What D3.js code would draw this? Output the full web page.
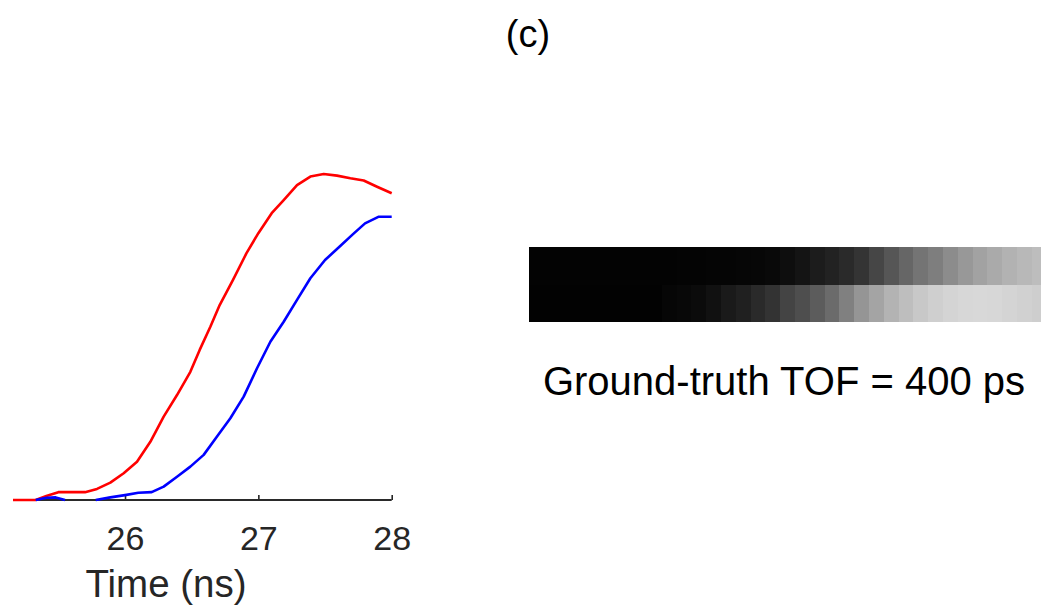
<!DOCTYPE html>
<html>
<head>
<meta charset="utf-8">
<script src="https://cdn.jsdelivr.net/npm/d3@7"></script>
<style>
  html, body { margin: 0; padding: 0; background: #fff; }
  svg { display: block; font-family: "Liberation Sans", Arial, Helvetica, sans-serif; }
</style>
</head>
<body>
<svg id="chart" width="1041" height="607"></svg>
<script>
// ---- data ----
const redTime  = [25.16, 25.33, 25.41, 25.50, 25.70, 25.79, 25.89, 25.99, 26.09, 26.19, 26.29, 26.39, 26.49, 26.56, 26.64, 26.71, 26.81, 26.91, 27.00, 27.10, 27.19, 27.29, 27.39, 27.49, 27.59, 27.69, 27.79, 27.89, 28.00];
const redValue = [0, 0, 0.012, 0.024, 0.024, 0.034, 0.053, 0.082, 0.117, 0.178, 0.255, 0.321, 0.392, 0.459, 0.530, 0.596, 0.673, 0.754, 0.816, 0.877, 0.917, 0.963, 0.989, 0.997, 0.992, 0.984, 0.977, 0.958, 0.938];

const blueTime  = [25.33, 25.41, 25.48, 25.55, 25.66, 25.78, 25.89, 26.00, 26.10, 26.20, 26.29, 26.39, 26.49, 26.59, 26.69, 26.79, 26.89, 26.99, 27.09, 27.19, 27.29, 27.39, 27.50, 27.61, 27.71, 27.80, 27.90, 28.00];
const blueValue = [0, 0.007, 0.008, 0, null, 0, 0.008, 0.015, 0.022, 0.024, 0.041, 0.071, 0.102, 0.138, 0.194, 0.250, 0.316, 0.403, 0.484, 0.545, 0.612, 0.678, 0.734, 0.775, 0.813, 0.846, 0.866, 0.866];

const xTicks = [26, 27, 28];
const xLabel = "Time (ns)";
const title = "(c)";

// gray-level strip (0 = black, 255 = white), two rows of columns
const stripTop    = [3, 3, 3, 3, 3, 3, 3, 3, 3, 3, 4, 4, 5, 5, 6, 7, 9, 14, 20, 28, 34, 42, 52, 70, 86, 102, 116, 126, 140, 152, 162, 170, 178, 184, 189];
const stripBottom = [2, 2, 2, 2, 2, 2, 2, 2, 2, 6, 8, 11, 17, 26, 32, 42, 51, 68, 78, 92, 107, 128, 149, 164, 179, 190, 200, 207, 212, 215, 216, 215, 212, 209, 206];
const stripCaption = "Ground-truth TOF = 400 ps";

// ---- drawing ----
const svg = d3.select("#chart");

const x = d3.scaleLinear().domain([25.16, 28]).range([13, 391.7]);
const y = d3.scaleLinear().domain([0, 1]).range([500, 173]);

// title
svg.append("text")
  .attr("x", 528).attr("y", 47)
  .attr("text-anchor", "middle")
  .attr("font-size", 38)
  .attr("fill", "#000")
  .text(title);

const line = d3.line()
  .defined(d => d[1] !== null)
  .x(d => x(d[0]))
  .y(d => y(d[1]));

const redData = redTime.map((t, i) => [t, redValue[i]]);
const blueData = blueTime.map((t, i) => [t, blueValue[i]]);

// axis
const axis = d3.axisBottom(x).tickValues(xTicks).tickFormat(d3.format("d")).tickSize(0).tickPadding(0);
const gAxis = svg.append("g").attr("transform", "translate(0,500)").call(axis);
gAxis.select(".domain").remove();
gAxis.selectAll(".tick text")
  .attr("font-size", 34)
  .attr("fill", "#262626")
  .attr("dy", null)
  .attr("y", 50)
  .attr("font-family", "Liberation Sans, Arial, sans-serif");
gAxis.selectAll(".tick line")
  .attr("y1", 0).attr("y2", -5)
  .attr("stroke", "#262626").attr("stroke-width", 1.6);
gAxis.append("line")
  .attr("x1", x.range()[0]).attr("x2", x.range()[1])
  .attr("y1", 0).attr("y2", 0)
  .attr("stroke", "#2a2a2a").attr("stroke-width", 1.8);

svg.append("path").datum(redData)
  .attr("d", line).attr("fill", "none")
  .attr("stroke", "#ff0000").attr("stroke-width", 2.6)
  .attr("stroke-linejoin", "round");
svg.append("path").datum(blueData)
  .attr("d", line).attr("fill", "none")
  .attr("stroke", "#0000ff").attr("stroke-width", 2.6)
  .attr("stroke-linejoin", "round");

svg.append("text")
  .attr("x", 166).attr("y", 597)
  .attr("text-anchor", "middle")
  .attr("font-size", 38.5)
  .attr("fill", "#262626")
  .text(xLabel);

// gray strip
const colX = d3.scaleLinear().domain([0, 1]).range([528.5, 543.3]);
const rowY = d3.scaleBand().domain([0, 1]).range([247, 322]);
const gray = v => d3.rgb(v, v, v).toString();
const rows = [stripTop, stripBottom];
const gStrip = svg.append("g");
rows.forEach((vals, r) => {
  gStrip.selectAll(null).data(vals).enter().append("rect")
    .attr("x", (d, i) => colX(i))
    .attr("y", rowY(r))
    .attr("width", colX(1) - colX(0) + 0.6)
    .attr("height", rowY.bandwidth() + 0.3)
    .attr("fill", d => gray(d))
    .attr("shape-rendering", "crispEdges");
});

svg.append("text")
  .attr("x", 784).attr("y", 395)
  .attr("text-anchor", "middle")
  .attr("font-size", 40)
  .attr("fill", "#000")
  .text(stripCaption);
</script>
</body>
</html>
